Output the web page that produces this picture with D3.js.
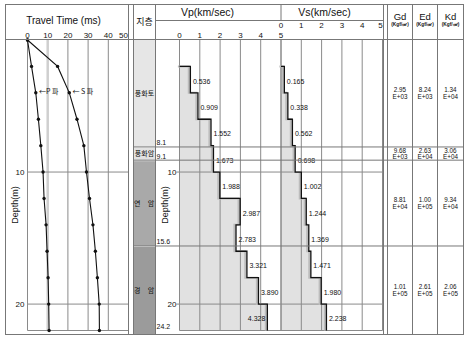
<!DOCTYPE html>
<html><head><meta charset="utf-8">
<script src="https://cdn.jsdelivr.net/npm/d3@7"></script>
<style>
html,body{margin:0;padding:0;background:#fff;}
svg{display:block;}
text{font-family:"Liberation Sans",Arial,sans-serif;fill:#111;}
.kr{font-family:"Noto Sans CJK KR","Liberation Sans",sans-serif;}
</style></head><body>
<svg id="c" width="470" height="339"></svg>
<script>
// ---------------- data ----------------
const ttDepth = [0, 2, 4, 6, 8, 10, 12, 14, 16, 18, 20, 22];
const pTime   = [0, 2.0, 4.1, 5.4, 6.6, 7.7, 8.2, 9.2, 9.7, 10.2, 10.5, 10.7];
const sTime   = [0, 14.9, 20.7, 24.5, 27.9, 29.2, 30.7, 32.4, 33.6, 34.6, 35.5, 35.6];
const timeTicks  = [0, 10, 20, 30, 40, 50];
const depthTicks = [10, 20];
const velTop    = [2, 4, 6, 8, 10, 12, 14, 16, 18, 20];
const velBottom = 22;
const vpValues = [0.536, 0.909, 1.552, 1.673, 1.988, 2.987, 2.783, 3.321, 3.890, 4.328];
const vsValues = [0.165, 0.338, 0.562, 0.698, 1.002, 1.244, 1.369, 1.471, 1.980, 2.238];
const velTicks = [0, 1, 2, 3, 4, 5];
const layerNames  = ["풍화토", "풍화암", "연 암", "경 암"];
const layerTop    = [0, 8.1, 9.1, 15.6];
const layerBottom = [8.1, 9.1, 15.6, 24.2];
const gdValues = [2.95e3, 9.68e3, 8.81e4, 1.01e5];
const edValues = [8.24e3, 2.63e4, 1.00e5, 2.61e5];
const kdValues = [1.34e4, 3.06e4, 9.34e4, 2.06e5];

// ---------------- styles / layout ----------------
const layerFill = ["#e6e6e6", "#e2e2e2", "#a9a9a9", "#9b9b9b"];
const LINE = "#777", GRID = "#8a8a8a", FILL = "#e1e1e1";
const F = {L: 5.5, R: 463.5, T: 4.5, B: 334.5, H: 39.5};
const colX = {tR: 128.5, sL: 133.5, sR: 155.5, vR: 383.5, gL: 387.5, eL: 412.5, kL: 437.5};

const svg = d3.select("#c");
svg.append("rect").attr("width", 470).attr("height", 339).attr("fill", "#fff");

const maxD = d3.max(ttDepth);
const y  = d3.scaleLinear().domain([0, maxD]).range([40, 330.5]).clamp(true);
const xt = d3.scaleLinear().domain([0, 50]).range([27.5, 128.5]);
const xp = d3.scaleLinear().domain([0, 5]).range([179.5, 281]);
const xs = d3.scaleLinear().domain([0, 5]).range([281, 382.5]);
const pb = y(maxD);
const yBot = d => (d >= d3.max(layerBottom) ? F.B : y(d));

// ---------------- strata column ----------------
const layers = layerNames.map((n, i) => ({n, top: layerTop[i], bot: layerBottom[i], c: layerFill[i],
  gd: gdValues[i], ed: edValues[i], kd: kdValues[i]}));
svg.append("g").selectAll("rect").data(layers).join("rect")
  .attr("x", colX.sL + 0.5).attr("width", colX.sR - colX.sL - 1)
  .attr("y", d => y(d.top) + (d.top > 0 ? 1 : 0))
  .attr("height", d => yBot(d.bot) - y(d.top) - (d.top > 0 ? 1 : 0))
  .attr("fill", d => d.c);

// ---------------- velocity fills ----------------
function velData(vals) {
  const pts = velTop.map((t, i) => ({d: t, v: vals[i]}));
  pts.push({d: velBottom, v: vals[vals.length - 1]});
  return pts;
}
function drawVel(vals, xsc) {
  const pts = velData(vals);
  const area = d3.area().curve(d3.curveStepBefore)
    .y(d => y(d.d)).x0(xsc(0)).x1(d => xsc(d.v));
  svg.append("path").attr("d", area(pts)).attr("fill", FILL);
  return pts;
}
const vpPts = drawVel(vpValues, xp);
const vsPts = drawVel(vsValues, xs);

// ---------------- grids ----------------
const g = svg.append("g").attr("stroke", GRID).attr("stroke-width", 1).attr("fill", "none");
timeTicks.filter(t => t > 0 && t < 50).forEach(t => {
  g.append("line").attr("x1", xt(t)).attr("x2", xt(t)).attr("y1", F.H).attr("y2", pb)
    .attr("stroke", t === 10 ? "#cfcfcf" : GRID).attr("stroke-width", t === 10 ? 2.5 : 1);
});
g.append("line").attr("x1", xt(0)).attr("x2", xt(0)).attr("y1", F.H).attr("y2", pb);
g.append("line").attr("x1", xt(0)).attr("x2", xt(50)).attr("y1", pb).attr("y2", pb);
depthTicks.forEach(d => {
  g.append("line").attr("x1", xt(0)).attr("x2", xt(50)).attr("y1", y(d)).attr("y2", y(d));
  g.append("line").attr("x1", xp(0) - 3).attr("x2", xs(5)).attr("y1", y(d)).attr("y2", y(d));
});
velTicks.forEach(v => {
  g.append("line").attr("x1", xp(v)).attr("x2", xp(v)).attr("y1", F.H).attr("y2", pb);
  g.append("line").attr("x1", xs(v)).attr("x2", xs(v)).attr("y1", F.H).attr("y2", pb);
});
g.append("line").attr("x1", xp(0)).attr("x2", xs(5)).attr("y1", pb).attr("y2", pb);

// ---------------- step lines ----------------
function stepLine(pts, xsc) {
  const line = d3.line().curve(d3.curveStepBefore).x(d => xsc(d.v)).y(d => y(d.d));
  const all = [{d: pts[0].d, v: 0}].concat(pts);
  svg.append("path").attr("d", line(all)).attr("fill", "none")
    .attr("stroke", "#bcbcbc").attr("stroke-width", 2).attr("transform", "translate(-1.6,0)");
  svg.append("path").attr("d", line(all)).attr("fill", "none")
    .attr("stroke", "#111").attr("stroke-width", 1.3);
}
stepLine(vpPts, xp);
stepLine(vsPts, xs);

function velLabels(vals, xsc) {
  const right = xsc(5);
  svg.append("g").selectAll("text").data(vals.map((v, i) => ({v, top: velTop[i], bot: i + 1 < velTop.length ? velTop[i + 1] : velBottom})))
    .join("text")
    .attr("font-size", 7)
    .attr("x", d => xsc(d.v) + 22 > right ? xsc(d.v) - 2 : xsc(d.v) + 2.5)
    .attr("text-anchor", d => xsc(d.v) + 22 > right ? "end" : "start")
    .attr("y", d => y((d.top + d.bot) / 2) + 4)
    .text(d => d3.format(".3f")(d.v));
}
velLabels(vpValues, xp);
velLabels(vsValues, xs);

// ---------------- travel-time curves ----------------
const tt = ttDepth.map((d, i) => ({d, p: pTime[i], s: sTime[i]}));
["p", "s"].forEach(k => {
  svg.append("path").attr("d", d3.line().x(d => xt(d[k])).y(d => y(d.d))(tt))
    .attr("fill", "none").attr("stroke", "#111").attr("stroke-width", 1.1);
  svg.append("g").selectAll("circle").data(tt).join("circle")
    .attr("cx", d => xt(d[k])).attr("cy", d => y(d.d)).attr("r", 1.7).attr("fill", "#111");
});
svg.append("text").attr("class", "kr").attr("font-size", 7).attr("x", 39).attr("y", 93.5).text("←P 파");
svg.append("text").attr("class", "kr").attr("font-size", 7).attr("x", 72.5).attr("y", 93.5).text("← S 파");

// ---------------- frame & table lines ----------------
const fr = svg.append("g").attr("stroke", LINE).attr("stroke-width", 1).attr("fill", "none");
fr.append("rect").attr("x", F.L).attr("y", F.T).attr("width", F.R - F.L).attr("height", F.B - F.T);
[colX.tR, colX.sL, colX.sR, colX.vR, colX.gL, colX.eL, colX.kL].forEach(x =>
  fr.append("line").attr("x1", x).attr("x2", x).attr("y1", F.T).attr("y2", F.B));
fr.append("line").attr("x1", F.L).attr("x2", F.R).attr("y1", F.H).attr("y2", F.H);
fr.append("line").attr("x1", colX.sR).attr("x2", colX.vR).attr("y1", 20.5).attr("y2", 20.5);
fr.append("line").attr("x1", xs(0)).attr("x2", xs(0)).attr("y1", F.T).attr("y2", 20.5);
layers.slice(0, -1).forEach(d =>
  fr.append("line").attr("x1", colX.sL).attr("x2", F.R).attr("y1", y(d.bot)).attr("y2", y(d.bot)));

// ---------------- texts ----------------
const T = (x, yy, s, size, anchor, cls) => svg.append("text").attr("x", x).attr("y", yy)
  .attr("font-size", size).attr("text-anchor", anchor || "middle").attr("class", cls || null).text(s);

T(63.5, 23.5, "Travel Time (ms)", 10);
timeTicks.forEach(t => T(t === 50 ? xt(t) - 0.5 : xt(t), 37.5, t, 8, t === 50 ? "end" : "middle"));
depthTicks.forEach(d => { T(24.5, y(d) + 3, d, 8, "end"); T(176.5, y(d) + 3, d, 8, "end"); });
[15, 165].forEach(x => svg.append("text").attr("font-size", 9).attr("text-anchor", "middle")
  .attr("transform", `translate(${x + 3},205) rotate(-90)`).text("Depth(m)"));

T(144.5, 25, "지층", 9, "middle", "kr");
T(207.5, 15.5, "Vp(km/sec)", 10.5);
T(324.5, 15.5, "Vs(km/sec)", 10.5);
velTicks.forEach(v => {
  T(xp(v), 37.5, v, 8);
  T(v === 5 ? xs(v) - 2 : xs(v), 28, v, 8);
});

// strata labels
const cx0 = (colX.sL + colX.sR) / 2;
layers.forEach(d => {
  const mid = (y(d.top) + yBot(d.bot)) / 2;
  const parts = d.n.split(" ");
  const t = svg.append("text").attr("class", "kr").attr("font-size", 7).attr("y", mid + 2.5);
  if (parts.length === 1) {
    t.attr("text-anchor", "middle").attr("x", cx0).text(d.n);
  } else {
    t.append("tspan").attr("x", cx0 - 6.5).attr("text-anchor", "middle").text(parts[0] + " ");
    t.append("tspan").attr("x", cx0 + 6.5).attr("text-anchor", "middle").text(parts[1]);
  }
  T(156.5, Math.min(y(d.bot), pb) - 1.5, d.bot, 7, "start");
});

// Gd / Ed / Kd
const heads = [["Gd", (colX.gL + colX.eL) / 2, "gd"], ["Ed", (colX.eL + colX.kL) / 2, "ed"], ["Kd", (colX.kL + F.R) / 2, "kd"]];
const fmtM = v => { const e = Math.floor(Math.log10(v)); return [(v / Math.pow(10, e)).toFixed(2), "E+" + String(e).padStart(2, "0")]; };
heads.forEach(([h, cx, key]) => {
  T(cx, 20, h, 9.5);
  svg.append("text").attr("x", cx).attr("y", 26).attr("font-size", 4.8).attr("font-weight", "bold")
    .attr("text-anchor", "middle").text("(Kgf/㎠)");
  layers.forEach(d => {
    const mid = (y(d.top) + yBot(d.bot)) / 2;
    const [m, e] = fmtM(d[key]);
    T(cx, mid - 1, m, 6.3);
    T(cx, mid + 5.5, e, 6.3);
  });
});
</script>
</body></html>
